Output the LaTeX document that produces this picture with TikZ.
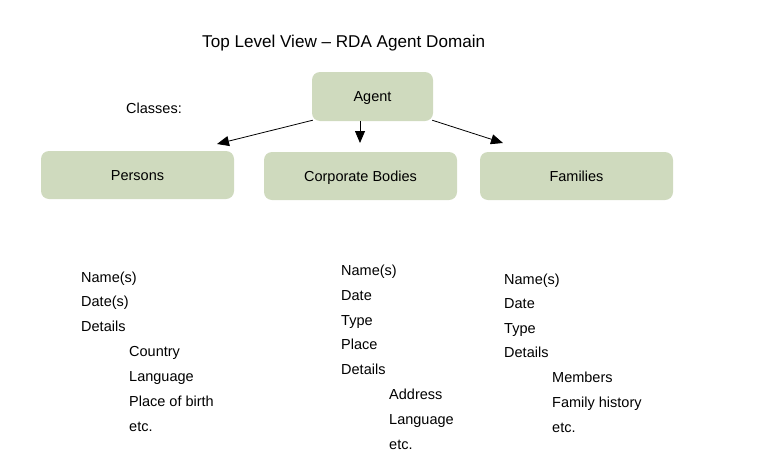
\documentclass[tikz,border=0pt]{standalone}
\usepackage{fontspec}
\setmainfont{Liberation Sans}
\usetikzlibrary{arrows.meta,calc}
\definecolor{boxgreen}{RGB}{207,218,190}
\tikzset{
  classbox/.style={fill=boxgreen, rounded corners=8pt, inner sep=0pt, text height=10.4pt, text depth=0pt, font=\fontsize{14.5}{17}\selectfont},
  lbl/.style={anchor=base west, inner sep=0pt, font=\fontsize{14.5}{17}\selectfont},
  arr/.style={-{Triangle[length=12pt,width=10pt]}, line width=0.8pt, black},
}
\begin{document}
\begin{tikzpicture}[x=1pt,y=-1pt]
\useasboundingbox (0,0) rectangle (767,458);
\node[lbl, font=\fontsize{17.1}{20}\selectfont] (title) at (202,47) {Top Level View -- RDA Agent Domain};
\node[lbl] (classes) at (126,113) {Classes:};
\node[classbox, minimum width=121pt, minimum height=49pt] (agent) at (372.5,96.5) {Agent};
\node[classbox, minimum width=193pt, minimum height=48pt] (persons) at (137.5,175) {Persons};
\node[classbox, minimum width=193pt, minimum height=48pt] (corp) at (360.5,176) {Corporate Bodies};
\node[classbox, minimum width=193pt, minimum height=48pt] (fam) at (576.5,176) {Families};
\coordinate (tipL) at (217,144);
\coordinate (tipM) at (360,143);
\coordinate (tipR) at (503,143);
\draw[arr] ($(agent.south west)+(1,-1)$) -- (tipL);
\draw[arr] (agent.south -| tipM) -- (tipM);
\draw[arr] ($(agent.south east)+(-1,-1)$) -- (tipR);
% Persons attributes
\node[lbl] (p1) at (81,282) {Name(s)};
\node[lbl] (p2) at (81,306) {Date(s)};
\node[lbl] (p3) at (81,331) {Details};
\node[lbl] (p4) at (129,356) {Country};
\node[lbl] (p5) at (129,381) {Language};
\node[lbl] (p6) at (129,406) {Place of birth};
\node[lbl] (p7) at (129,431) {etc.};
% Corporate bodies attributes
\node[lbl] (c1) at (341,275) {Name(s)};
\node[lbl] (c2) at (341,300) {Date};
\node[lbl] (c3) at (341,325) {Type};
\node[lbl] (c4) at (341,349) {Place};
\node[lbl] (c5) at (341,374) {Details};
\node[lbl] (c6) at (389,399) {Address};
\node[lbl] (c7) at (389,424) {Language};
\node[lbl] (c8) at (389,449) {etc.};
% Families attributes
\node[lbl] (f1) at (504,284) {Name(s)};
\node[lbl] (f2) at (504,308) {Date};
\node[lbl] (f3) at (504,333) {Type};
\node[lbl] (f4) at (504,357) {Details};
\node[lbl] (f5) at (552,382) {Members};
\node[lbl] (f6) at (552,407) {Family history};
\node[lbl] (f7) at (552,432) {etc.};
\end{tikzpicture}
\end{document}
